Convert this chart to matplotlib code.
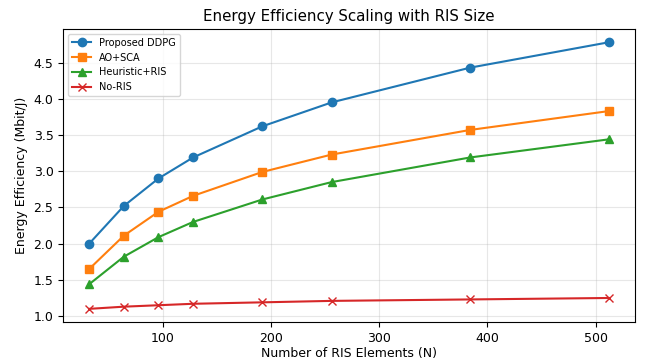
import matplotlib
matplotlib.use("Agg")
import matplotlib.pyplot as plt

ris_elements = [32, 64, 96, 128, 192, 256, 384, 512]
ee_ddpg = [2.00, 2.52, 2.90, 3.19, 3.62, 3.95, 4.43, 4.78]
ee_aosca = [1.65, 2.11, 2.44, 2.66, 2.99, 3.23, 3.57, 3.83]
ee_heuristic = [1.44, 1.82, 2.09, 2.30, 2.61, 2.85, 3.19, 3.44]
ee_noris = [1.10, 1.13, 1.15, 1.17, 1.19, 1.21, 1.23, 1.25]

fig, ax = plt.subplots(figsize=(6.45, 3.62), dpi=100)
ax.plot(ris_elements, ee_ddpg, marker="o", color="#1f77b4", label="Proposed DDPG", markersize=6)
ax.plot(ris_elements, ee_aosca, marker="s", color="#ff7f0e", label="AO+SCA", markersize=6)
ax.plot(ris_elements, ee_heuristic, marker="^", color="#2ca02c", label="Heuristic+RIS", markersize=6)
ax.plot(ris_elements, ee_noris, marker="x", color="#d62728", label="No-RIS", markersize=6)

ax.set_xlabel("Number of RIS Elements (N)", fontsize=9, labelpad=1.5)
ax.set_ylabel("Energy Efficiency (Mbit/J)", fontsize=9)
ax.set_title("Energy Efficiency Scaling with RIS Size", fontsize=10.8)
ax.tick_params(labelsize=9)
ax.grid(True, alpha=0.3)
ax.legend(loc="upper left", fontsize=7)

plt.subplots_adjust(left=0.098, right=0.984, top=0.92, bottom=0.11)
plt.savefig("out.png", dpi=100)
